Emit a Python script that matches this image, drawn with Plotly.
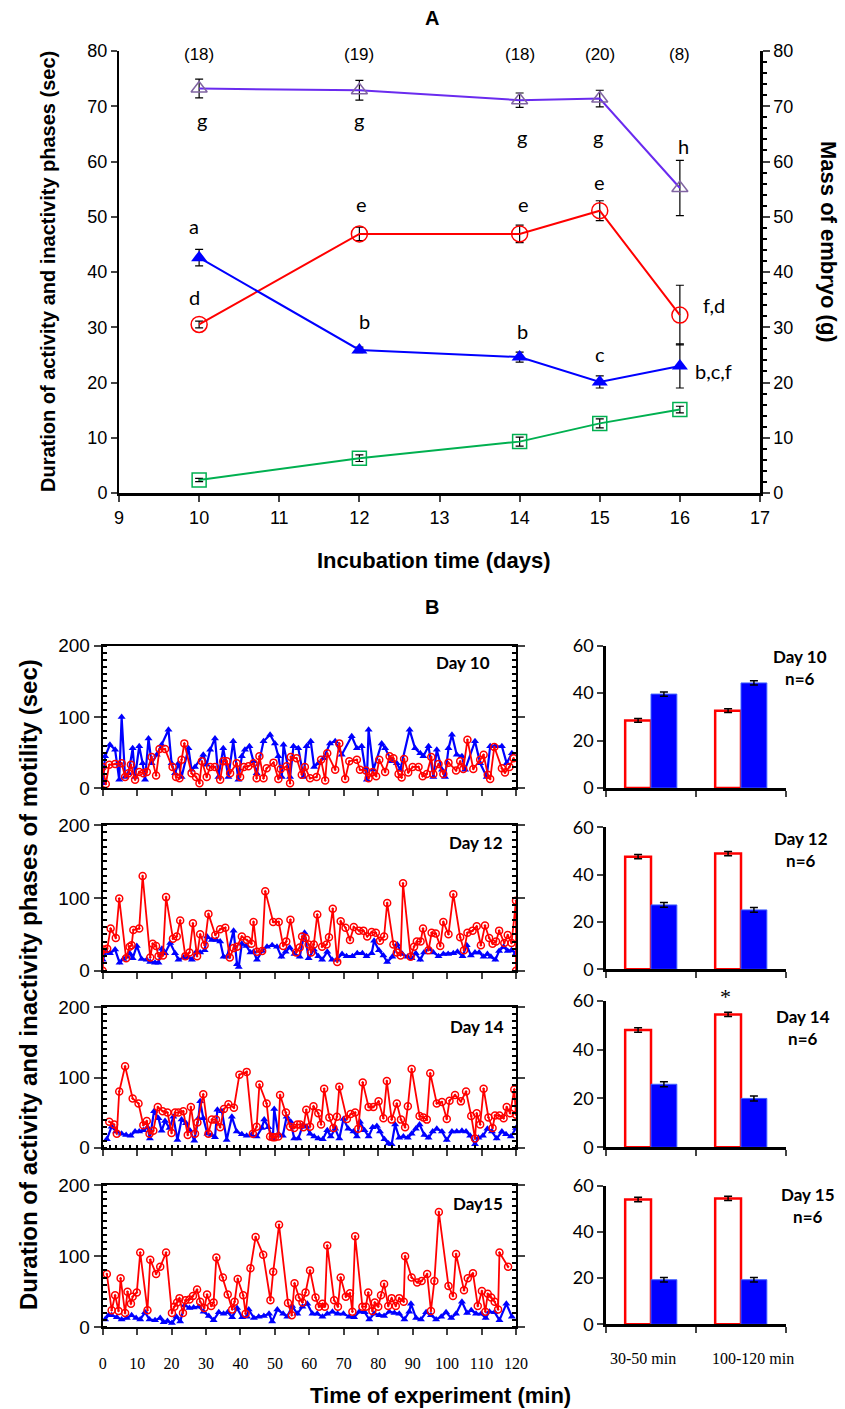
import plotly.graph_objects as go

W, H = 845, 1409

# ---------------- Panel A data ----------------
days_A = [10, 12, 14, 15, 16]
n_labels = ["(18)", "(19)", "(18)", "(20)", "(8)"]
cycle_mean = [73.2, 72.9, 71.1, 71.4, 55.2]      # purple
cycle_err = [1.7, 1.8, 1.3, 1.5, 5.0]
inact_mean = [30.5, 46.9, 46.9, 51.1, 32.2]      # red
inact_err = [0.6, 1.2, 1.6, 1.8, 5.4]
act_mean = [42.6, 25.9, 24.6, 20.1, 23.0]        # blue
act_err = [1.5, 0.5, 0.9, 1.1, 4.0]
mass_mean = [2.35, 6.3, 9.3, 12.6, 15.1]         # green
mass_err = [0.3, 0.6, 0.8, 0.8, 0.6]

# ---------------- Panel B time series ----------------
d10_act_t = [0, 0.7, 2.1, 3.6, 4.8, 5.5, 6.5, 7.5, 8.7, 9.4, 10.6, 11.6, 12.3, 13.3, 14.2, 15.7, 17.1, 19.1, 20.0, 21.0,
             22.0, 22.9, 24.9, 25.8, 26.8, 29.2, 30.2, 31.2, 32.6, 33.6, 35.0, 36.5, 37.9, 39.4, 40.4, 41.3, 42.6, 43.8,
             44.7, 46.7, 48.6, 50.0, 51.0, 52.0, 52.5, 54.4, 55.4, 56.8, 58.3, 59.2, 60.4, 61.4, 62.6, 64.1, 66.0, 67.5,
             69.4, 72.3, 73.8, 75.2, 76.7, 77.2, 78.6, 81.0, 82.0, 83.9, 85.4, 86.4, 89.1, 90.7, 92.2, 93.1, 94.6, 96.0,
             97.0, 98.5, 99.4, 100.4, 101.4, 102.8, 104.3, 105.2, 108.1, 109.6, 111.5, 112.5, 113.9, 115.9, 117.3, 118.8]
d10_act_v = [7, 45, 61, 54, 12, 100, 16, 21, 56, 16, 59, 35, 12, 70, 35, 47, 61, 82, 35, 21,
             35, 16, 56, 26, 30, 47, 33, 54, 70, 16, 56, 16, 66, 12, 45, 54, 59, 38,
             21, 66, 75, 63, 45, 16, 61, 16, 59, 56, 16, 59, 66, 30, 35, 42, 63, 66,
             47, 73, 56, 59, 12, 82, 26, 63, 56, 38, 35, 26, 82, 56, 49, 45, 59, 16,
             54, 26, 16, 56, 75, 47, 45, 26, 66, 35, 16, 59, 59, 59, 35, 49]
d10_inact_t = [0, 0.9, 1.9, 3.6, 5.5, 6.5, 7.5, 8.2, 9.4, 10.6, 11.8, 12.8, 14.2, 15.5, 16.5, 18.1, 20.3, 21.3, 22.3,
               22.9, 23.7, 25.8, 27.1, 28.1, 28.8, 30.2, 31.2, 32.6, 34.1, 35.0, 36.0, 37.0, 38.9, 39.9, 41.0, 42.3,
               43.8, 44.7, 45.5, 46.7, 47.6, 49.6, 51.0, 51.7, 53.4, 54.4, 54.6, 56.3, 57.8, 58.7, 60.2, 62.1, 63.4,
               64.6, 65.2, 67.5, 68.7, 70.4, 71.6, 73.8, 74.7, 76.4, 77.2, 78.4, 79.4, 80.3, 82.0, 83.3, 84.4, 85.9,
               86.8, 87.5, 88.7, 90.0, 91.7, 92.9, 94.1, 95.4, 96.0, 97.5, 98.9, 100.4, 102.6, 103.8, 104.7, 105.9,
               107.6, 109.6, 110.6, 111.8, 112.5, 113.7, 115.9, 116.8, 118.1, 119.3]
d10_inact_v = [30, 6, 33, 34, 35, 16, 21, 33, 12, 23, 21, 23, 44, 18, 55, 55, 30, 16, 14,
               40, 63, 21, 16, 7, 38, 16, 30, 30, 12, 38, 38, 21, 35, 16, 30, 31,
               35, 14, 45, 14, 28, 36, 13, 27, 31, 7, 44, 42, 19, 30, 14, 16, 40,
               11, 49, 26, 63, 13, 38, 40, 26, 25, 14, 23, 17, 40, 23, 45, 42, 20,
               15, 41, 22, 30, 30, 17, 20, 44, 20, 34, 20, 36, 25, 38, 27, 68,
               27, 40, 47, 19, 13, 58, 28, 22, 30, 42]

d12_act_t = [0, 1, 2.1, 3.6, 4.9, 6.0, 7.0, 7.8, 8.7, 9.9, 11.3, 12.8, 13.8, 15.2, 16.2, 17.2, 18.1, 19.6, 21.0, 22.0,
             23.5, 24.9, 25.9, 27.2, 28.3, 29.6, 30.3, 31.7, 33.0, 34.1, 35.1, 36.1, 38.0, 39.0, 39.5, 40.4, 41.7, 42.9,
             43.8, 44.8, 46.3, 47.7, 49.2, 50.6, 51.9, 53.1, 54.3, 55.7, 57.2, 58.6, 59.8, 61.3, 62.6, 63.7, 65.2, 66.6,
             67.9, 69.5, 70.8, 72.5, 73.9, 75.4, 76.6, 78.1, 78.8, 80.2, 81.5, 82.6, 84.1, 85.5, 87.0, 88.5, 89.7, 90.9,
             92.2, 93.3, 94.8, 96.0, 97.5, 98.9, 100.3, 101.8, 103.0, 104.5, 105.7, 106.9, 108.1, 109.3, 110.6, 111.7,
             112.7, 114.0, 115.1, 116.4, 117.6, 118.7, 120]
d12_act_v = [15, 26, 24, 29, 11, 16, 19, 24, 17, 34, 16, 15, 12, 11, 11, 30, 24, 38, 24, 15,
             18, 18, 15, 26, 25, 28, 47, 42, 42, 40, 19, 19, 55, 9, 5, 37, 34, 25,
             26, 15, 27, 33, 35, 33, 19, 26, 32, 23, 19, 52, 17, 29, 20, 15, 26, 15,
             15, 23, 20, 20, 24, 24, 20, 24, 41, 28, 21, 12, 19, 36, 23, 19, 17, 24,
             15, 25, 30, 25, 20, 23, 23, 24, 26, 20, 35, 21, 25, 25, 19, 23,
             19, 15, 27, 33, 27, 28, 24]
d12_inact_t = [0, 0.2, 1.3, 2.3, 3.8, 4.8, 6.8, 7.8, 8.4, 8.9, 10.6, 11.6, 13.8, 14.5, 15.5, 16.2, 17.5, 18.4, 20.4,
               21.5, 22.5, 24.0, 25.2, 26.2, 27.4, 28.3, 29.6, 30.7, 32.7, 34.1, 35.6, 36.9, 38.0, 39.0, 40.4, 41.9,
               43.2, 43.8, 44.8, 46.3, 47.2, 49.5, 51.1, 52.4, 53.3, 54.5, 56.2, 57.2, 57.9, 58.9, 59.8, 60.5, 61.3,
               62.3, 63.7, 65.0, 65.7, 66.8, 68.1, 69.1, 70.5, 71.8, 72.9, 74.4, 75.7, 76.8, 78.1, 79.3, 80.5, 81.7,
               82.6, 84.4, 85.4, 86.5, 87.2, 89.4, 90.4, 91.2, 92.3, 93.0, 94.6, 95.5, 96.7, 98.0, 98.9, 100.4, 101.8,
               103.8, 104.9, 105.9, 107.4, 108.6, 109.8, 111.0, 112.2, 113.2, 114.2, 115.1, 116.6, 117.6, 118.7, 120,
               120]
d12_inact_v = [0, 29, 30, 58, 45, 99, 17, 33, 35, 56, 58, 130, 18, 37, 34, 20, 21, 101, 44,
               47, 69, 20, 25, 65, 20, 50, 35, 78, 49, 57, 59, 18, 31, 33, 47, 42,
               37, 67, 26, 27, 109, 67, 67, 34, 40, 70, 25, 32, 47, 45, 36, 25, 36,
               77, 33, 36, 46, 85, 12, 68, 59, 42, 60, 55, 55, 47, 53, 52, 41, 47,
               93, 36, 25, 21, 120, 19, 33, 40, 40, 58, 28, 52, 51, 34, 67, 50, 105,
               46, 28, 52, 55, 61, 35, 62, 45, 37, 40, 55, 38, 49, 38, 96,
               0]

d14_act_t = [1.2, 2.6, 3.9, 5.5, 6.8, 8.1, 9.4, 10.6, 11.8, 13.0, 13.7, 14.9, 16.2, 17.1, 18.1, 19.4, 20.5, 21.7, 22.9,
             24.2, 25.4, 26.6, 27.8, 28.3, 29.2, 30.4, 31.6, 32.6, 33.3, 34.6, 36.0, 37.5, 38.9, 40.4, 41.8, 43.2, 44.7,
             46.2, 46.9, 48.1, 49.4, 49.8, 51.0, 52.3, 53.4, 54.6, 55.6, 56.8, 58.1, 59.2, 60.2, 61.4, 62.6, 63.9, 65.2,
             66.2, 67.5, 68.7, 69.9, 71.3, 72.8, 73.8, 74.7, 76.0, 77.2, 78.4, 79.6, 80.5, 81.8, 83.0, 83.9, 84.9, 86.1,
             87.3, 88.6, 89.7, 90.9, 92.0, 93.4, 94.6, 95.8, 97.0, 98.5, 99.9, 101.4, 102.8, 104.3, 105.5, 106.7, 108.1,
             109.1, 110.4, 111.7, 113.0, 114.4, 115.9, 117.1, 118.5, 120]
d14_act_v = [12, 30, 23, 20, 18, 17, 23, 23, 25, 29, 13, 52, 42, 24, 38, 28, 44, 11, 40,
             35, 24, 10, 42, 66, 42, 20, 18, 15, 54, 52, 11, 44, 23, 19, 17, 18, 16,
             28, 40, 29, 13, 55, 20, 17, 44, 37, 13, 13, 32, 30, 20, 16, 13, 12, 25,
             16, 27, 13, 41, 27, 23, 16, 37, 25, 16, 29, 31, 23, 12, 6, 5, 33, 14,
             16, 14, 20, 27, 33, 18, 14, 23, 27, 23, 11, 23, 23, 24, 23, 17, 5,
             14, 17, 27, 23, 13, 23, 19, 16, 28]
d14_inact_t = [1.9, 3.3, 4.1, 4.8, 6.5, 8.7, 10.4, 11.8, 12.8, 13.6, 14.7, 16.0, 17.4, 18.8, 20.0, 21.0, 22.0, 23.4,
               24.7, 25.6, 26.8, 27.5, 29.2, 30.7, 31.7, 32.9, 34.1, 35.2, 36.5, 38.1, 39.7, 41.8, 43.6, 44.7, 45.5,
               47.6, 48.6, 49.4, 50.0, 51.0, 51.5, 53.2, 54.4, 55.6, 56.5, 57.3, 58.3, 59.1, 60.2, 61.2, 62.6, 63.4,
               64.3, 65.8, 67.0, 68.0, 68.7, 70.9, 72.0, 73.3, 74.2, 75.5, 77.2, 78.6, 80.1, 81.5, 82.5, 83.9, 85.4,
               86.6, 87.8, 88.6, 89.7, 92.0, 93.1, 94.1, 95.1, 97.0, 98.5, 99.9, 100.7, 102.3, 104.0, 105.5, 107.0,
               108.1, 108.6, 109.6, 110.6, 112.0, 113.2, 113.9, 115.2, 116.4, 117.3, 118.3, 119.5, 120]
d14_inact_v = [37, 33, 20, 80, 116, 70, 63, 32, 38, 20, 24, 58, 52, 50, 21, 50, 50, 52,
               18, 58, 20, 36, 76, 20, 40, 40, 29, 55, 62, 57, 104, 108, 20, 30, 90,
               63, 16, 15, 15, 16, 75, 50, 30, 28, 33, 33, 29, 54, 30, 59, 49, 33,
               84, 43, 28, 44, 87, 41, 48, 50, 27, 93, 58, 58, 66, 42, 95, 40, 63,
               40, 29, 59, 112, 45, 43, 40, 106, 63, 65, 41, 67, 75, 66, 80, 45,
               13, 49, 33, 84, 43, 28, 46, 46, 42, 58, 49, 83, 47]

d15_act_t = [0.7, 1.7, 2.6, 4.1, 5.5, 7.0, 8.4, 9.7, 10.9, 12.3, 13.6, 15.2, 16.7, 17.7, 18.8, 20.1, 21.4, 22.5, 23.8,
             25.2, 26.4, 27.9, 29.3, 30.8, 32.2, 33.7, 35.1, 36.3, 37.6, 39.0, 40.5, 41.9, 42.4, 43.9, 45.3, 46.8, 48.3,
             49.2, 50.7, 52.4, 53.6, 55.0, 56.5, 58.0, 59.4, 60.9, 62.3, 63.8, 65.2, 66.7, 68.2, 69.9, 71.6, 73.0, 74.5,
             76.1, 77.4, 78.8, 80.3, 81.7, 83.2, 84.7, 86.1, 87.6, 89.0, 89.5, 91.0, 92.4, 93.9, 95.3, 96.8, 98.3, 99.7,
             101.2, 102.6, 104.3, 105.8, 107.0, 108.4, 109.9, 111.2, 112.3, 113.8, 115.2, 117.2, 118.8]
d15_act_v = [11, 17, 17, 14, 11, 13, 17, 13, 11, 21, 11, 10, 13, 7, 9, 6, 15, 8, 31,
             27, 28, 29, 22, 16, 10, 21, 19, 21, 14, 27, 14, 15, 25, 13, 15, 16, 19,
             8, 25, 19, 15, 30, 19, 29, 33, 19, 19, 15, 19, 22, 19, 19, 15, 14, 22,
             21, 11, 19, 17, 16, 22, 20, 19, 11, 22, 33, 13, 11, 21, 17, 11, 15, 21,
             13, 19, 36, 20, 24, 19, 19, 13, 22, 21, 10, 33, 15]
d15_inact_t = [1.2, 2.6, 3.6, 4.6, 5.2, 6.5, 7.2, 8.2, 8.7, 9.9, 10.9, 13.0, 13.8, 15.5, 16.7, 18.4, 20.1, 20.8, 21.6,
               22.3, 23.3, 24.0, 25.2, 26.2, 27.4, 28.3, 29.5, 30.3, 31.5, 32.2, 33.0, 34.9, 36.3, 37.6, 38.3, 39.2,
               40.8, 41.5, 42.9, 44.4, 46.6, 48.7, 49.5, 51.2, 53.8, 54.9, 55.7, 57.0, 58.0, 58.9, 60.2, 61.8, 62.8,
               63.8, 64.5, 65.2, 67.2, 68.3, 69.1, 70.6, 71.8, 72.5, 73.3, 75.4, 76.4, 77.1, 78.3, 79.0, 80.0, 80.8,
               81.7, 82.9, 83.9, 85.1, 86.1, 87.4, 87.8, 89.7, 91.3, 92.6, 94.2, 95.3, 96.3, 97.6, 100.4, 101.7, 102.6,
               104.9, 106.0, 107.5, 108.9, 110.1, 111.1, 111.8, 112.8, 113.8, 114.8, 115.2, 117.7]
d15_inact_v = [75, 24, 45, 23, 69, 20, 50, 33, 43, 49, 105, 24, 95, 75, 85, 105, 20, 29, 35,
               41, 20, 38, 39, 44, 53, 36, 27, 46, 30, 35, 98, 70, 46, 25, 36, 68,
               45, 19, 83, 127, 102, 38, 78, 144, 34, 17, 62, 42, 35, 49, 80, 42, 29,
               33, 29, 115, 38, 29, 70, 43, 48, 22, 128, 29, 29, 49, 23, 35, 29, 45,
               61, 30, 41, 30, 41, 36, 100, 70, 63, 65, 75, 23, 65, 162, 58, 44, 103,
               52, 69, 76, 30, 51, 22, 47, 42, 36, 25, 105, 85]

# ---------------- Panel B bars ----------------
bar_cats = ["30-50 min", "100-120 min"]
bar_inact = {10: [28.5, 32.6], 12: [47.6, 48.9], 14: [48.0, 54.4], 15: [54.0, 54.5]}
bar_inact_err = {10: [0.8, 0.8], 12: [0.9, 0.9], 14: [0.9, 0.9], 15: [1.0, 0.9]}
bar_act = {10: [39.6, 44.3], 12: [27.2, 25.1], 14: [25.8, 20.0], 15: [19.3, 19.3]}
bar_act_err = {10: [0.9, 0.9], 12: [1.0, 1.0], 14: [1.0, 1.0], 15: [1.0, 1.0]}
day_list = [10, 12, 14, 15]
ts_day_text = ["Day 10", "Day 12", "Day 14", "Day15"]
bar_day_text = ["Day 10<br>n=6", "Day 12<br>n=6", "Day 14<br>n=6", "Day 15<br>n=6"]

RED = "#FF0000"
BLUE = "#0000FF"
PURPLE_LINE = "#6A2BEF"
PURPLE_MK = "#8064A2"
GREEN = "#00B050"
ARIAL = "Liberation Sans, Arial, sans-serif"
CAL = "Lato, Carlito, Calibri, sans-serif"
TIMES = "Liberation Serif, Times New Roman, serif"

fig = go.Figure()

def eb(err):
    return dict(type="data", array=err, visible=True, color="black", thickness=1.2, width=4)

# Panel A traces
fig.add_trace(go.Scatter(x=days_A, y=cycle_mean, error_y=eb(cycle_err), mode="lines+markers",
                         line=dict(color=PURPLE_LINE, width=2),
                         marker=dict(symbol="triangle-up-open", size=14, color=PURPLE_MK, line=dict(width=1.5)),
                         xaxis="x", yaxis="y", showlegend=False))
fig.add_trace(go.Scatter(x=days_A, y=inact_mean, error_y=eb(inact_err), mode="lines+markers",
                         line=dict(color=RED, width=2),
                         marker=dict(symbol="circle-open", size=16, color=RED, line=dict(width=1.5)),
                         xaxis="x", yaxis="y", showlegend=False))
fig.add_trace(go.Scatter(x=days_A, y=act_mean, error_y=eb(act_err), mode="lines+markers",
                         line=dict(color=BLUE, width=2),
                         marker=dict(symbol="triangle-up", size=14, color=BLUE),
                         xaxis="x", yaxis="y", showlegend=False))
fig.add_trace(go.Scatter(x=days_A, y=mass_mean, error_y=eb(mass_err), mode="lines+markers",
                         line=dict(color=GREEN, width=2),
                         marker=dict(symbol="square-open", size=14, color=GREEN, line=dict(width=1.5)),
                         xaxis="x", yaxis="y2", showlegend=False))

# Time series traces
ts_data = [(d10_act_t, d10_act_v, d10_inact_t, d10_inact_v),
           (d12_act_t, d12_act_v, d12_inact_t, d12_inact_v),
           (d14_act_t, d14_act_v, d14_inact_t, d14_inact_v),
           (d15_act_t, d15_act_v, d15_inact_t, d15_inact_v)]
for i, (at, av, it, iv) in enumerate(ts_data):
    xa = "x%d" % (i + 2)
    ya = "y%d" % (i + 3)
    fig.add_trace(go.Scatter(x=at, y=av, mode="lines+markers", line=dict(color=BLUE, width=2.2),
                             marker=dict(symbol="triangle-up", size=7, color=BLUE),
                             xaxis=xa, yaxis=ya, showlegend=False, cliponaxis=True))
    fig.add_trace(go.Scatter(x=it, y=iv, mode="lines+markers", line=dict(color=RED, width=1.8),
                             marker=dict(symbol="circle-open-dot", size=7, color=RED, line=dict(width=1.5)),
                             xaxis=xa, yaxis=ya, showlegend=False, cliponaxis=True))

# Bar traces
for i, d in enumerate(day_list):
    xa = "x%d" % (i + 6)
    ya = "y%d" % (i + 7)
    fig.add_trace(go.Bar(x=bar_cats, y=bar_inact[d], error_y=dict(type="data", array=bar_inact_err[d], color="black",
                                                                    thickness=1.5, width=4),
                         marker=dict(color="white", line=dict(color=RED, width=2.5)),
                         xaxis=xa, yaxis=ya, showlegend=False, offsetgroup="a"))
    fig.add_trace(go.Bar(x=bar_cats, y=bar_act[d], error_y=dict(type="data", array=bar_act_err[d], color="black",
                                                                  thickness=1.5, width=4),
                         marker=dict(color=BLUE, line=dict(color="#4060FF", width=1)),
                         xaxis=xa, yaxis=ya, showlegend=False, offsetgroup="b"))

def py(y):
    return 1 - y / H

def px(x):
    return x / W

layout = dict(
    width=W, height=H, margin=dict(l=0, r=0, t=0, b=0, autoexpand=False),
    paper_bgcolor="white", plot_bgcolor="white",
    bargap=0.426, bargroupgap=0,
    font=dict(family=ARIAL, color="black"),
)

# Panel A axes
layout["xaxis"] = dict(domain=[px(119), px(760)], range=[9, 17], dtick=1, tick0=9, showline=True, linewidth=3,
                       linecolor="black", ticks="outside", ticklen=6, tickwidth=2, showgrid=False, zeroline=False,
                       tickfont=dict(size=18, family=ARIAL), anchor="y")
layout["yaxis"] = dict(domain=[py(493), py(51)], range=[0, 80], dtick=10, showline=True, linewidth=2,
                       linecolor="black", ticks="outside", ticklen=6, tickwidth=2, showgrid=False, zeroline=False,
                       tickfont=dict(size=18, family=ARIAL), anchor="x")
layout["yaxis2"] = dict(domain=[py(493), py(51)], range=[0, 80], dtick=10, showline=True, linewidth=2.5,
                        linecolor="black", ticks="outside", ticklen=7, tickwidth=2, showgrid=False, zeroline=False,
                        tickfont=dict(size=18, family=ARIAL), overlaying="y", side="right", anchor="x",
                        minor=dict(dtick=2, ticks="outside", ticklen=4, tickwidth=2, tickcolor="black", showgrid=False))

ts_dom = [(788.3, 645.7), (970.7, 825), (1147.7, 1007.3), (1327.3, 1185)]
bar_dom = [(788, 645.7), (969.3, 827.3), (1147.3, 1000.7), (1324.3, 1185.7)]
for i in range(4):
    xa = "xaxis%d" % (i + 2)
    ya = "yaxis%d" % (i + 3)
    last = (i == 3)
    xd = dict(domain=[px(102.7), px(516)], range=[0, 120], dtick=10, tick0=0, showline=True, linewidth=2,
              linecolor="black", mirror=True, ticks="outside", ticklen=6, tickwidth=2, showgrid=False,
              zeroline=False, showticklabels=last, anchor="y%d" % (i + 3),
              tickfont=dict(size=16, family=TIMES))
    if last:
        xd["ticklabelstandoff"] = 14
    if i == 2:
        xd["minor"] = dict(dtick=2, ticks="inside", ticklen=3, tickwidth=1.5, tickcolor="black", showgrid=False)
    layout[xa] = xd
    layout[ya] = dict(domain=[py(ts_dom[i][0]), py(ts_dom[i][1])], range=[0, 200], tickvals=[0, 100, 200],
                      showline=True, linewidth=2, linecolor="black", mirror="ticks", ticks="outside", ticklen=7,
                      tickwidth=2, showgrid=False, zeroline=False, anchor="x%d" % (i + 2),
                      tickfont=dict(size=19, family=ARIAL),
                      minor=dict(dtick=10, ticks="inside", ticklen=4, tickwidth=2, tickcolor="black",
                                 showgrid=False))
    bx = "xaxis%d" % (i + 6)
    by = "yaxis%d" % (i + 7)
    layout[bx] = dict(domain=[px(606), px(786)], type="category", tickson="boundaries", showline=True,
                      linewidth=2.5, linecolor="black", ticks="outside", ticklen=6, tickwidth=2, showgrid=False,
                      zeroline=False, showticklabels=False, anchor="y%d" % (i + 7))
    layout[by] = dict(domain=[py(bar_dom[i][0]), py(bar_dom[i][1])], range=[0, 60], dtick=20, showline=True,
                      linewidth=2.5, linecolor="black", ticks="outside", ticklen=6, tickwidth=2, showgrid=False,
                      zeroline=False, anchor="x%d" % (i + 6), tickfont=dict(size=18, family=CAL))

fig.update_layout(**layout)

ann = []

def add(text, x, y, size, family, xref="paper", yref="paper", angle=0):
    if xref == "paper":
        x = px(x)
    if yref == "paper":
        y = py(y)
    ann.append(dict(text=text, x=x, y=y, xref=xref, yref=yref, showarrow=False, textangle=angle,
                    xanchor="center", yanchor="middle", font=dict(size=size, family=family, color="black")))

# Panel titles
add("<b>A</b>", 432, 18, 20, ARIAL)
add("<b>B</b>", 432, 607, 20, ARIAL)
# Panel A axis titles
add("<b>Duration of activity and inactivity phases (sec)</b>", 48, 272, 20, ARIAL, angle=-90)
add("<b>Mass of embryo (g)</b>", 829, 242, 22, ARIAL, angle=90)
add("<b>Incubation time (days)</b>", 433, 560, 22, ARIAL)
# n labels
for d, t in zip(days_A, n_labels):
    add(t, d, 79.3, 17, ARIAL, xref="x", yref="y")
# significance letters
letters = [("g", 10.04, 67.5), ("g", 12.0, 67.5), ("g", 14.03, 64.5), ("g", 14.98, 64.5), ("h", 16.05, 62.8),
           ("e", 12.03, 52.3), ("e", 14.05, 52.3), ("e", 15.0, 56.3), ("a", 9.93, 48.3), ("d", 9.94, 35.5),
           ("b", 12.06, 31.2), ("b", 14.04, 29.4), ("c", 15.0, 25.2), ("b,c,f", 16.42, 22.1), ("f,d", 16.42, 34.0)]
for t, x, y in letters:
    add(t, x, y, 20, CAL, xref="x", yref="y")

# Panel B titles
add("<b>Duration of activity and inactivity phases of motility (sec)</b>", 28, 985, 24, ARIAL, angle=-90)
add("<b>Time of experiment (min)</b>", 441, 1395, 22, ARIAL)
ts_lab_pos = [(463, 663), (476, 842), (477, 1026), (478, 1203)]
for (x, y), t in zip(ts_lab_pos, ts_day_text):
    add("<b>%s</b>" % t, x, y, 17, CAL)
bar_lab_pos = [(800, 667), (801, 849), (803, 1027), (808, 1205)]
for (x, y), t in zip(bar_lab_pos, bar_day_text):
    add("<b>%s</b>" % t, x, y, 17, CAL)
add("*", 725, 997, 22, TIMES)
bar_lab_x = [643, 753]
for x, t in zip(bar_lab_x, bar_cats):
    add(t, x, 1358, 16, TIMES)

fig.update_layout(annotations=ann)
fig.write_html("out.html", config={"displayModeBar": False},
               post_script="document.body.style.margin='0px';document.body.style.padding='0px';")
